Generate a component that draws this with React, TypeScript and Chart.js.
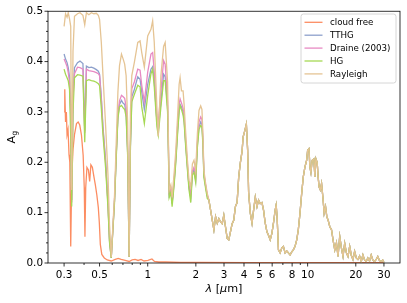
import React, { useEffect, useRef } from "react";
import { Chart, registerables } from "chart.js";

Chart.register(...registerables);

// ---------- data ----------
const seriesLabels = ["cloud free", "TTHG", "Draine (2003)", "HG", "Rayleigh"];
const seriesColors = ["#fc8d62", "#8da0cb", "#e78ac3", "#a6d854", "#e5c494"];

const shortWavelengths = [
  0.300, 0.3064, 0.3131, 0.3185, 0.3245, 0.3301, 0.3348, 0.3411, 0.3485, 0.3639,
  0.3771, 0.3936, 0.4039, 0.4138, 0.4287, 0.4444, 0.4606, 0.4774, 0.4912, 0.500,
  0.5128, 0.5254, 0.5452, 0.5644, 0.5773, 0.5916, 0.6202, 0.6356, 0.6512, 0.6663,
  0.6855, 0.7025, 0.7177, 0.7330, 0.7489, 0.7655, 0.7796, 0.7953, 0.8257, 0.8667,
  0.8959, 0.9178, 0.9526, 1.000, 1.048, 1.074, 1.099, 1.142, 1.164, 1.209,
  1.257, 1.286, 1.331, 1.347, 1.362, 1.395, 1.421, 1.463, 1.499, 1.536,
  1.572, 1.594, 1.626, 1.664, 1.688, 1.729, 1.772, 1.813, 1.858, 1.903,
  1.947, 1.995, 2.045, 2.092, 2.144, 2.183, 2.214, 2.246, 2.302, 2.358,
];

const rayleighShort = [
  0.470, 0.495, 0.488, 0.497, 0.485, 0.470, 0.145, 0.420, 0.490, 0.495,
  0.497, 0.492, 0.473, 0.497, 0.493, 0.497, 0.495, 0.496, 0.492, 0.484,
  0.438, 0.372, 0.274, 0.175, 0.076, 0.012, 0.135, 0.240, 0.340, 0.392,
  0.415, 0.405, 0.395, 0.372, 0.280, 0.013, 0.300, 0.372, 0.399, 0.438,
  0.441, 0.418, 0.389, 0.451, 0.464, 0.481, 0.438, 0.307, 0.252, 0.372,
  0.430, 0.438, 0.360, 0.250, 0.145, 0.155, 0.130, 0.178, 0.224, 0.289,
  0.355, 0.368, 0.342, 0.342, 0.316, 0.257, 0.204, 0.164, 0.151, 0.197,
  0.204, 0.184, 0.257, 0.303, 0.312, 0.305, 0.257, 0.184, 0.158, 0.138,
];

const tthgShort = [
  0.415, 0.405, 0.398, 0.388, 0.370, 0.300, 0.125, 0.340, 0.388, 0.398,
  0.401, 0.396, 0.262, 0.391, 0.388, 0.389, 0.387, 0.384, 0.381, 0.375,
  0.330, 0.270, 0.205, 0.120, 0.045, 0.010, 0.125, 0.215, 0.290, 0.315,
  0.323, 0.317, 0.315, 0.296, 0.220, 0.012, 0.230, 0.330, 0.345, 0.370,
  0.365, 0.340, 0.305, 0.355, 0.385, 0.390, 0.360, 0.280, 0.262, 0.320,
  0.375, 0.370, 0.310, 0.230, 0.135, 0.145, 0.118, 0.160, 0.205, 0.260,
  0.305, 0.315, 0.310, 0.300, 0.285, 0.235, 0.190, 0.150, 0.130, 0.180,
  0.185, 0.165, 0.235, 0.270, 0.280, 0.275, 0.240, 0.175, 0.152, 0.133,
];

const draineShort = [
  0.405, 0.398, 0.390, 0.378, 0.360, 0.290, 0.120, 0.330, 0.376, 0.389,
  0.388, 0.385, 0.258, 0.385, 0.382, 0.381, 0.380, 0.378, 0.376, 0.372,
  0.325, 0.265, 0.200, 0.115, 0.043, 0.010, 0.125, 0.215, 0.295, 0.322,
  0.333, 0.330, 0.327, 0.310, 0.230, 0.012, 0.240, 0.346, 0.360, 0.385,
  0.383, 0.353, 0.320, 0.379, 0.415, 0.418, 0.380, 0.280, 0.278, 0.340,
  0.402, 0.395, 0.320, 0.235, 0.140, 0.148, 0.120, 0.165, 0.210, 0.270,
  0.315, 0.326, 0.318, 0.307, 0.290, 0.240, 0.195, 0.152, 0.135, 0.183,
  0.190, 0.170, 0.240, 0.280, 0.290, 0.285, 0.245, 0.178, 0.155, 0.135,
];

const hgShort = [
  0.385, 0.375, 0.368, 0.362, 0.345, 0.250, 0.112, 0.300, 0.368, 0.374,
  0.373, 0.371, 0.240, 0.362, 0.364, 0.362, 0.361, 0.359, 0.356, 0.352,
  0.307, 0.254, 0.190, 0.110, 0.040, 0.010, 0.120, 0.208, 0.287, 0.310,
  0.313, 0.308, 0.305, 0.290, 0.215, 0.012, 0.230, 0.320, 0.335, 0.353,
  0.350, 0.310, 0.277, 0.333, 0.376, 0.385, 0.350, 0.270, 0.254, 0.310,
  0.362, 0.362, 0.300, 0.220, 0.130, 0.140, 0.112, 0.155, 0.200, 0.255,
  0.300, 0.313, 0.305, 0.294, 0.280, 0.230, 0.185, 0.145, 0.120, 0.175,
  0.180, 0.160, 0.230, 0.265, 0.273, 0.270, 0.235, 0.170, 0.148, 0.128,
];

const longWavelengths = [
  2.413, 2.473, 2.533, 2.593, 2.657, 2.722, 2.785, 2.853, 2.923, 2.991,
  3.064, 3.140, 3.213, 3.291, 3.373, 3.451, 3.535, 3.622, 3.707, 3.798,
  3.892, 3.948, 4.040, 4.139, 4.216, 4.276, 4.381, 4.489, 4.593, 4.707,
  4.823, 4.934, 5.055, 5.180, 5.300, 5.431, 5.565, 5.691, 5.833, 5.976,
  6.113, 6.265, 6.355, 6.447, 6.568, 6.730, 6.895, 7.054, 7.228, 7.406,
  7.577, 7.765, 7.955, 8.140, 8.340, 8.546, 8.743, 8.959, 9.178, 9.391,
  9.621, 9.858, 10.0, 10.19, 10.33, 10.48, 10.68, 10.94, 11.10, 11.26,
  11.47, 11.63, 11.80, 12.01, 12.22, 12.50, 12.68, 12.94, 13.18, 13.43,
  13.76, 14.10, 14.42, 14.78, 15.14, 15.49, 15.87, 16.26, 16.64, 17.05,
  17.47, 17.88, 18.32, 18.76, 19.20, 19.67, 20.15, 20.62, 21.13, 21.65,
  22.15, 22.70, 23.25, 23.79, 24.38, 24.97, 25.55, 26.18, 26.83, 27.45,
  28.12, 28.82, 29.48, 30.0,
];

// the four cloudy models coincide beyond ~2.4 µm
const cloudyLongAlbedo = [
  0.125, 0.105, 0.085, 0.066, 0.092, 0.079, 0.088, 0.082, 0.078, 0.095,
  0.072, 0.049, 0.046, 0.062, 0.078, 0.085, 0.112, 0.120, 0.171, 0.200,
  0.222, 0.250, 0.262, 0.276, 0.224, 0.140, 0.099, 0.079, 0.105, 0.131,
  0.112, 0.125, 0.118, 0.120, 0.105, 0.079, 0.062, 0.055, 0.046, 0.059,
  0.079, 0.105, 0.115, 0.090, 0.026, 0.020, 0.030, 0.033, 0.020, 0.024,
  0.020, 0.016, 0.022, 0.026, 0.033, 0.046, 0.066, 0.099, 0.138, 0.171,
  0.191, 0.204, 0.224, 0.227, 0.191, 0.180, 0.204, 0.207, 0.171, 0.207,
  0.200, 0.171, 0.151, 0.145, 0.158, 0.125, 0.099, 0.112, 0.092, 0.085,
  0.072, 0.066, 0.046, 0.026, 0.040, 0.013, 0.053, 0.030, 0.013, 0.039,
  0.020, 0.013, 0.033, 0.015, 0.007, 0.023, 0.010, 0.007, 0.014, 0.003,
  0.016, 0.006, 0.003, 0.010, 0.004, 0.016, 0.006, 0.003, 0.007, 0.013,
  0.005, 0.003, 0.006, 0.001,
];

const cloudFreeWavelengths = [
  0.300, 0.3030, 0.3064, 0.3100, 0.3131, 0.3176, 0.3222, 0.3258, 0.3301, 0.3348,
  0.3411, 0.3485, 0.3587, 0.3674, 0.3759, 0.3853, 0.3948, 0.4011, 0.4051, 0.4097,
  0.4169, 0.4258, 0.4337, 0.4412, 0.4508, 0.4606, 0.4706, 0.4808, 0.4912, 0.4983,
  0.5055, 0.5164, 0.5353, 0.5587, 0.5916, 0.6264, 0.6539, 0.6826, 0.7228, 0.7655,
  0.7990, 0.8340, 0.8706, 0.9087, 0.9484, 1.004, 1.063, 1.102, 1.175, 1.299,
  1.61, 2.144, 4.381, 8.959, 30.0,
];
const cloudFreeAlbedo = [
  0.300, 0.345, 0.280, 0.300, 0.255, 0.265, 0.215, 0.200, 0.033, 0.170,
  0.225, 0.255, 0.277, 0.280, 0.274, 0.254, 0.214, 0.150, 0.052, 0.150,
  0.190, 0.185, 0.162, 0.195, 0.190, 0.172, 0.155, 0.135, 0.110, 0.080,
  0.037, 0.017, 0.010, 0.006, 0.004, 0.007, 0.009, 0.007, 0.005, 0.003,
  0.006, 0.007, 0.005, 0.007, 0.004, 0.005, 0.008, 0.003, 0.002, 0.002,
  0.001, 0.001, 0.0005, 0.0005, 0.0005,
];

const xLabelledTicks = [0.3, 0.5, 1, 2, 3, 4, 5, 6, 8, 10, 20, 30];
const xUnlabelledTicks = [0.4, 0.6, 0.7, 0.8, 0.9, 7, 9];
const yLabelledTicks = [0, 0.1, 0.2, 0.3, 0.4, 0.5];
const yMinorTicks = [0.02, 0.04, 0.06, 0.08, 0.12, 0.14, 0.16, 0.18, 0.22, 0.24, 0.26, 0.28,
  0.32, 0.34, 0.36, 0.38, 0.42, 0.44, 0.46, 0.48];

const X_MIN = 0.238;
const X_MAX = 37.8;
const FONT = '"DejaVu Sans", sans-serif';
const TICK_SIZE = 10.4;
const TITLE_SIZE = 11.2;
const LEGEND_SIZE = 8.7;

function toPoints(xs: number[], ys: number[]) {
  return xs.map((x, i) => ({ x, y: ys[i] }));
}

const decorPlugin = {
  id: "decor",
  afterDraw(chart: any) {
    const { ctx, chartArea: a, scales } = chart;
    const xs = scales.x;
    const ys = scales.y;
    ctx.save();
    ctx.strokeStyle = "#000";
    ctx.lineWidth = 0.8;
    const seg = (x1: number, y1: number, x2: number, y2: number) => {
      ctx.beginPath();
      ctx.moveTo(x1, y1);
      ctx.lineTo(x2, y2);
      ctx.stroke();
    };
    xLabelledTicks.forEach((v) => { const p = xs.getPixelForValue(v); seg(p, a.bottom, p, a.bottom + 3.5); });
    xUnlabelledTicks.forEach((v) => { const p = xs.getPixelForValue(v); seg(p, a.bottom, p, a.bottom + 2); });
    yLabelledTicks.forEach((v) => { const p = ys.getPixelForValue(v); seg(a.left - 3.5, p, a.left, p); });
    yMinorTicks.forEach((v) => { const p = ys.getPixelForValue(v); seg(a.left - 2, p, a.left, p); });
    ctx.strokeRect(a.left, a.top, a.right - a.left, a.bottom - a.top);

    // x axis title: λ [μm] with italic Greek letters
    ctx.fillStyle = "#000";
    ctx.textBaseline = "alphabetic";
    ctx.textAlign = "left";
    const parts = [
      { t: "λ", it: true },
      { t: " [", it: false },
      { t: "μ", it: true },
      { t: "m]", it: false },
    ];
    const fontFor = (it: boolean) => `${it ? "italic " : ""}${TITLE_SIZE}px ${FONT}`;
    let total = 0;
    parts.forEach((p) => { ctx.font = fontFor(p.it); total += ctx.measureText(p.t).width; });
    let cx = (a.left + a.right) / 2 - total / 2;
    parts.forEach((p) => { ctx.font = fontFor(p.it); ctx.fillText(p.t, cx, 291.5); cx += ctx.measureText(p.t).width; });

    // y axis title: A_g
    ctx.save();
    ctx.translate(14.5, (a.top + a.bottom) / 2);
    ctx.rotate(-Math.PI / 2);
    ctx.font = `${TITLE_SIZE}px ${FONT}`;
    const wA = ctx.measureText("A").width;
    ctx.font = `7.8px ${FONT}`;
    const wg = ctx.measureText("g").width;
    const start = -(wA + wg) / 2;
    ctx.font = `${TITLE_SIZE}px ${FONT}`;
    ctx.fillText("A", start, 0);
    ctx.font = `7.8px ${FONT}`;
    ctx.fillText("g", start + wA, 2.2);
    ctx.restore();

    // legend
    const lx = 301, ly = 14, lw = 95, lh = 69, r = 2.5;
    ctx.beginPath();
    ctx.moveTo(lx + r, ly);
    ctx.lineTo(lx + lw - r, ly);
    ctx.quadraticCurveTo(lx + lw, ly, lx + lw, ly + r);
    ctx.lineTo(lx + lw, ly + lh - r);
    ctx.quadraticCurveTo(lx + lw, ly + lh, lx + lw - r, ly + lh);
    ctx.lineTo(lx + r, ly + lh);
    ctx.quadraticCurveTo(lx, ly + lh, lx, ly + lh - r);
    ctx.lineTo(lx, ly + r);
    ctx.quadraticCurveTo(lx, ly, lx + r, ly);
    ctx.closePath();
    ctx.fillStyle = "rgba(255,255,255,0.8)";
    ctx.fill();
    ctx.strokeStyle = "#cccccc";
    ctx.lineWidth = 0.8;
    ctx.stroke();
    ctx.font = `${LEGEND_SIZE}px ${FONT}`;
    ctx.textBaseline = "middle";
    seriesLabels.forEach((label, i) => {
      const y = 22.3 + i * 12.9;
      ctx.strokeStyle = seriesColors[i];
      ctx.lineWidth = 1.3;
      seg(304.5, y, 322.5, y);
      ctx.fillStyle = "#000";
      ctx.fillText(label, 330, y + 0.5);
    });
    ctx.restore();
  },
};

export default function App() {
  const ref = useRef<HTMLCanvasElement | null>(null);

  useEffect(() => {
    if (!ref.current) return;
    const seriesData = [
      toPoints(cloudFreeWavelengths, cloudFreeAlbedo),
      toPoints([...shortWavelengths, ...longWavelengths], [...tthgShort, ...cloudyLongAlbedo]),
      toPoints([...shortWavelengths, ...longWavelengths], [...draineShort, ...cloudyLongAlbedo]),
      toPoints([...shortWavelengths, ...longWavelengths], [...hgShort, ...cloudyLongAlbedo]),
      toPoints([...shortWavelengths, ...longWavelengths], [...rayleighShort, ...cloudyLongAlbedo]),
    ];
    const chart = new Chart(ref.current, {
      type: "line",
      data: {
        datasets: seriesData.map((d, i) => ({
          label: seriesLabels[i],
          data: d,
          borderColor: seriesColors[i],
          backgroundColor: seriesColors[i],
          borderWidth: 1.3,
          pointRadius: 0,
          tension: 0,
          fill: false,
          order: 5 - i,
        })),
      },
      options: {
        animation: false,
        responsive: false,
        maintainAspectRatio: false,
        layout: { padding: { top: 10, right: 7, left: 0, bottom: 0 } },
        plugins: { legend: { display: false }, tooltip: { enabled: false } },
        scales: {
          x: {
            type: "logarithmic",
            min: X_MIN,
            max: X_MAX,
            afterBuildTicks: (scale: any) => {
              scale.ticks = xLabelledTicks.map((v) => ({ value: v }));
            },
            afterFit: (scale: any) => { scale.height = 40; },
            ticks: {
              autoSkip: false,
              maxRotation: 0,
              minRotation: 0,
              padding: 6,
              color: "#000",
              font: { family: FONT, size: TICK_SIZE },
              callback: (v: any) => String(v),
            },
            grid: { display: false, drawTicks: false },
            border: { display: false },
          },
          y: {
            type: "linear",
            min: 0,
            max: 0.5,
            afterBuildTicks: (scale: any) => {
              scale.ticks = yLabelledTicks.map((v) => ({ value: v }));
            },
            afterFit: (scale: any) => { scale.width = 48; },
            ticks: {
              padding: 5,
              color: "#000",
              font: { family: FONT, size: TICK_SIZE },
              callback: (v: any) => Number(v).toFixed(1),
            },
            grid: { display: false, drawTicks: false },
            border: { display: false },
          },
        },
      },
      plugins: [decorPlugin],
    } as any);
    return () => chart.destroy();
  }, []);

  return (
    <div style={{ position: "fixed", left: 0, top: 0, width: 407, height: 303, background: "#fff" }}>
      <canvas ref={ref} width={407} height={303} style={{ display: "block", width: 407, height: 303 }} />
    </div>
  );
}
